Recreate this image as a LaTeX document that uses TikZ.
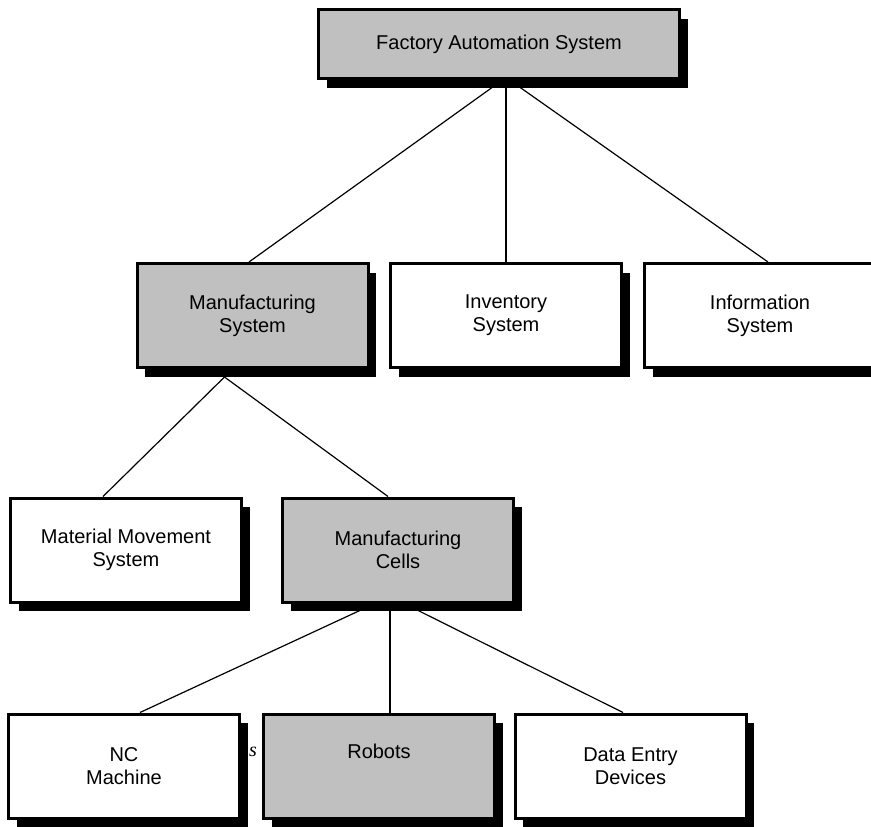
\documentclass[tikz,border=0pt]{standalone}
\usepackage{fontspec}
\setmainfont{Liberation Sans}
\newfontfamily\captionserif{Liberation Serif}
\usetikzlibrary{shadows,backgrounds,calc}
\definecolor{boxgray}{HTML}{C0C0C0}
\tikzset{
  unitbox/.style={draw=black, line width=3pt, minimum width=231pt, minimum height=104pt,
    inner sep=0pt, align=center, font=\fontsize{20}{23}\selectfont,
    drop shadow={shadow xshift=8pt, shadow yshift=-9pt, fill=black, opacity=1}},
  shadedbox/.style={unitbox, fill=boxgray},
  plainbox/.style={unitbox, fill=white},
  link/.style={line width=1.2pt},
  strayglyph/.style={font=\captionserif\fontsize{20}{24}\selectfont, inner sep=0pt}
}
\begin{document}
\begin{tikzpicture}[x=1pt,y=-1pt]
\useasboundingbox (0,0) rectangle (871,827);

% hierarchy boxes
\node[shadedbox, minimum width=361pt, minimum height=69pt] (fas) at (499,44) {Factory Automation System};
\node[shadedbox] (mfg)   at (252.5,315.5) {Manufacturing\\System};
\node[plainbox]  (inv)   at (506,315.5)   {Inventory\\System};
\node[plainbox]  (info)  at (760,315.5)   {Information\\System};
\node[plainbox]  (mms)   at (126,550)     {Material Movement\\System};
\node[shadedbox] (cells) at (398,550)     {Manufacturing\\Cells};
\node[plainbox]  (nc)    at (124,766)     {NC\\Machine};
\node[shadedbox] (rob)   at (379,766)     {Robots\\\strut};
\node[plainbox]  (dat)   at (630.5,766)   {Data Entry\\Devices};

\begin{scope}[on background layer]
  % caption remnants peeking out between the bottom boxes
  \node[strayglyph] (capI) at (10,752) {I};
  \node[strayglyph, font=\captionserif\itshape\fontsize{20}{24}\selectfont] (capS) at (253,752) {s};

  % tree connectors
  \draw[link] ([xshift=7pt,yshift=2.5pt]fas.south) -- ([xshift=-3.5pt]mfg.north);
  \draw[link] ([xshift=7pt,yshift=2.5pt]fas.south) -- (inv.north);
  \draw[link] ([xshift=7pt,yshift=2.5pt]fas.south) -- ([xshift=8pt]info.north);

  \draw[link] ([xshift=-28pt,yshift=-8pt]mfg.south) -- ([xshift=-23pt]mms.north);
  \draw[link] ([xshift=-28pt,yshift=-8pt]mfg.south) -- ([xshift=-10pt]cells.north);

  \draw[link] ([xshift=-8pt,yshift=7pt]cells.south) -- ([xshift=16pt]nc.north);
  \draw[link] ([xshift=-8pt,yshift=7pt]cells.south) -- ([xshift=11pt]rob.north);
  \draw[link] ([xshift=-8pt,yshift=7pt]cells.south) -- ([xshift=-7.5pt]dat.north);
\end{scope}
\end{tikzpicture}
\end{document}
